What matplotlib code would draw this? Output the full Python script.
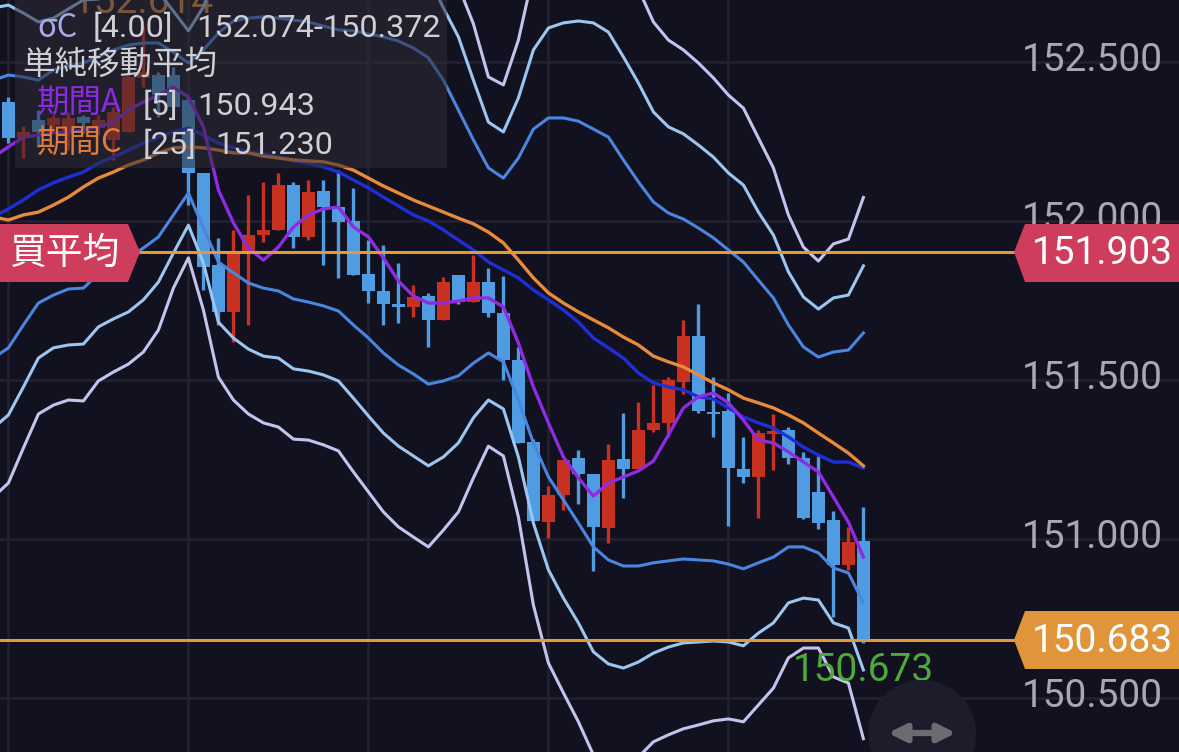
import numpy as np
import matplotlib
matplotlib.use("Agg")
import matplotlib.pyplot as plt
from matplotlib.patches import Polygon, Circle, Rectangle
from matplotlib.transforms import ScaledTranslation

# candles, from the first visible bar to the last one
opens = [152.374, 152.261, 152.318, 152.302, 152.280, 152.327, 152.292, 152.255, 152.280, 152.450,
         152.459, 152.459, 152.381, 152.151, 151.862, 151.714, 151.899, 151.956, 151.972, 152.113,
         151.950, 152.094, 152.044, 152.000, 151.833, 151.780, 151.739, 151.730, 151.764, 151.689,
         151.830, 151.745, 151.808, 151.711, 151.563, 151.305, 151.053, 151.138, 151.255, 151.204,
         151.035, 151.252, 151.220, 151.343, 151.365, 151.494, 151.638, 151.399, 151.403, 151.220,
         151.195, 151.330, 151.343, 151.255, 151.148, 151.060, 150.918, 150.994]
highs = [152.390, 152.299, 152.349, 152.333, 152.343, 152.333, 152.333, 152.359, 152.475, 152.614,
         152.469, 152.484, 152.390, 152.151, 151.947, 151.972, 152.082, 152.123, 152.151, 152.123,
         152.129, 152.129, 152.160, 152.104, 151.940, 151.925, 151.868, 151.799, 151.774, 151.824,
         151.830, 151.893, 151.852, 151.827, 151.604, 151.314, 151.167, 151.248, 151.280, 151.204,
         151.299, 151.396, 151.431, 151.484, 151.509, 151.689, 151.739, 151.509, 151.459, 151.321,
         151.343, 151.393, 151.352, 151.274, 151.261, 151.088, 151.038, 151.101]
lows = [152.245, 152.198, 152.233, 152.280, 152.223, 152.277, 152.270, 152.192, 152.280, 152.421,
        152.327, 152.359, 152.050, 151.783, 151.673, 151.620, 151.673, 151.934, 151.972, 151.915,
        151.940, 151.862, 151.821, 151.830, 151.742, 151.673, 151.679, 151.698, 151.604, 151.689,
        151.739, 151.745, 151.698, 151.500, 151.302, 151.057, 151.003, 151.091, 151.110, 150.899,
        150.987, 151.129, 151.220, 151.336, 151.321, 151.456, 151.396, 151.321, 151.041, 151.176,
        151.066, 151.217, 151.236, 151.063, 151.031, 150.755, 150.903, 150.673]
closes = [152.261, 152.280, 152.280, 152.324, 152.324, 152.308, 152.318, 152.343, 152.453, 152.469,
          152.396, 152.359, 152.151, 151.855, 151.714, 151.899, 151.956, 151.972, 152.113, 151.950,
          152.091, 152.044, 151.997, 151.830, 151.780, 151.739, 151.730, 151.761, 151.689, 151.808,
          151.745, 151.808, 151.711, 151.563, 151.302, 151.057, 151.138, 151.248, 151.204, 151.038,
          151.248, 151.220, 151.343, 151.365, 151.500, 151.638, 151.403, 151.393, 151.223, 151.195,
          151.333, 151.340, 151.255, 151.066, 151.050, 150.918, 150.991, 150.683]

# indicators start one bar left of the first visible candle
ma_a = [152.201, 152.233, 152.264, 152.270, 152.277, 152.280, 152.286, 152.296, 152.311, 152.349,
        152.374, 152.396, 152.421, 152.390, 152.296, 152.098, 151.994, 151.915, 151.877, 151.918,
        151.981, 152.019, 152.038, 152.044, 151.981, 151.950, 151.884, 151.811, 151.764, 151.742,
        151.742, 151.748, 151.758, 151.758, 151.730, 151.616, 151.478, 151.365, 151.258, 151.192,
        151.135, 151.176, 151.195, 151.214, 151.245, 151.327, 151.412, 151.447, 151.459, 151.428,
        151.374, 151.311, 151.302, 151.274, 151.242, 151.211, 151.132, 151.053, 150.943]
ma_c = [152.013, 152.003, 152.019, 152.028, 152.050, 152.075, 152.107, 152.135, 152.154, 152.176,
        152.192, 152.214, 152.230, 152.233, 152.230, 152.223, 152.214, 152.214, 152.204, 152.198,
        152.192, 152.189, 152.186, 152.176, 152.160, 152.135, 152.110, 152.088, 152.066, 152.047,
        152.028, 152.009, 151.991, 151.965, 151.931, 151.877, 151.821, 151.774, 151.742, 151.714,
        151.689, 151.664, 151.635, 151.610, 151.575, 151.557, 151.541, 151.516, 151.491, 151.469,
        151.443, 151.428, 151.412, 151.390, 151.365, 151.333, 151.302, 151.270, 151.230]
bb_mid = [152.013, 152.038, 152.066, 152.098, 152.120, 152.138, 152.154, 152.182, 152.201, 152.223,
          152.245, 152.264, 152.280, 152.292, 152.270, 152.245, 152.230, 152.217, 152.211, 152.201,
          152.189, 152.182, 152.170, 152.154, 152.129, 152.104, 152.075, 152.047, 152.019, 152.000,
          151.972, 151.940, 151.909, 151.871, 151.846, 151.821, 151.783, 151.752, 151.720, 151.682,
          151.632, 151.601, 151.569, 151.522, 151.491, 151.478, 151.469, 151.447, 151.440, 151.412,
          151.384, 151.365, 151.349, 151.321, 151.289, 151.264, 151.242, 151.242, 151.223]
upper_a = [152.443, 152.459, 152.453, 152.443, 152.475, 152.487, 152.497, 152.516, 152.538, 152.553,
           152.560, 152.560, 152.531, 152.497, 152.538, 152.591, 152.629, 152.638, 152.642, 152.638,
           152.632, 152.626, 152.613, 152.601, 152.598, 152.588, 152.579, 152.566, 152.544, 152.513,
           152.443, 152.349, 152.255, 152.167, 152.135, 152.198, 152.289, 152.324, 152.324, 152.314,
           152.289, 152.264, 152.192, 152.123, 152.060, 152.025, 152.006, 151.978, 151.947, 151.909,
           151.871, 151.814, 151.758, 151.673, 151.604, 151.572, 151.588, 151.594, 151.648]
lower_a = [151.569, 151.601, 151.673, 151.742, 151.767, 151.786, 151.789, 151.833, 151.862, 151.884,
           151.915, 151.950, 152.019, 152.088, 151.978, 151.871, 151.837, 151.805, 151.789, 151.780,
           151.755, 151.745, 151.733, 151.717, 151.673, 151.632, 151.585, 151.547, 151.519, 151.487,
           151.497, 151.513, 151.553, 151.585, 151.557, 151.437, 151.302, 151.195, 151.123, 151.050,
           150.975, 150.934, 150.915, 150.915, 150.925, 150.931, 150.937, 150.934, 150.931, 150.921,
           150.906, 150.925, 150.943, 150.975, 150.975, 150.956, 150.909, 150.893, 150.799]
upper_b = [152.670, 152.679, 152.654, 152.626, 152.638, 152.667, 152.695, 152.698, 152.711, 152.733,
           152.739, 152.720, 152.660, 152.598, 152.673, 152.808, 152.827, 152.837, 152.846, 152.833,
           152.843, 152.837, 152.824, 152.811, 152.814, 152.821, 152.818, 152.802, 152.777, 152.770,
           152.670, 152.579, 152.443, 152.311, 152.280, 152.387, 152.538, 152.607, 152.623, 152.629,
           152.623, 152.594, 152.516, 152.434, 152.343, 152.296, 152.274, 152.239, 152.201, 152.151,
           152.113, 152.028, 151.956, 151.840, 151.761, 151.723, 151.758, 151.767, 151.859]
lower_b = [151.349, 151.390, 151.478, 151.569, 151.601, 151.610, 151.613, 151.667, 151.692, 151.714,
           151.752, 151.808, 151.899, 151.987, 151.868, 151.682, 151.632, 151.597, 151.575, 151.569,
           151.535, 151.528, 151.516, 151.497, 151.443, 151.387, 151.333, 151.292, 151.261, 151.230,
           151.258, 151.302, 151.381, 151.437, 151.409, 151.258, 151.050, 150.903, 150.814, 150.736,
           150.645, 150.607, 150.594, 150.613, 150.641, 150.660, 150.673, 150.676, 150.679, 150.676,
           150.664, 150.704, 150.736, 150.799, 150.814, 150.808, 150.736, 150.720, 150.588]
upper_c = [152.918, 152.899, 152.846, 152.802, 152.818, 152.840, 152.874, 152.868, 152.877, 152.896,
           152.903, 152.871, 152.770, 152.701, 152.821, 152.981, 153.022, 153.041, 153.057, 153.050,
           153.063, 153.053, 153.044, 153.031, 153.047, 153.060, 153.066, 153.057, 153.031, 153.025,
           152.915, 152.739, 152.620, 152.453, 152.428, 152.569, 152.780, 152.893, 152.925, 152.940,
           152.943, 152.921, 152.874, 152.730, 152.626, 152.569, 152.538, 152.497, 152.450, 152.396,
           152.355, 152.261, 152.167, 152.019, 151.918, 151.874, 151.928, 151.943, 152.074]
lower_c = [151.132, 151.176, 151.286, 151.393, 151.421, 151.437, 151.434, 151.497, 151.525, 151.550,
           151.588, 151.657, 151.789, 151.884, 151.720, 151.509, 151.437, 151.393, 151.365, 151.352,
           151.314, 151.311, 151.296, 151.277, 151.211, 151.148, 151.085, 151.038, 151.006, 150.975,
           151.028, 151.085, 151.192, 151.292, 151.261, 151.069, 150.792, 150.610, 150.516, 150.425,
           150.321, 150.280, 150.264, 150.314, 150.362, 150.384, 150.403, 150.415, 150.428, 150.434,
           150.425, 150.478, 150.531, 150.626, 150.657, 150.657, 150.566, 150.547, 150.372]

y_ticks = [150.5, 151.0, 151.5, 152.0, 152.5]
avg_buy = 151.903
last_price = 150.683
low_price = 150.673
high_price = 152.614

BG = "#12111f"
GRID = "#222132"
UP = "#c8301f"
DOWN = "#4f9ce2"
LINE = "#e09a3c"
CJK = ["Noto Sans CJK JP", "Roboto", "DejaVu Sans"]
plt.rcParams["font.family"] = ["Roboto", "Noto Sans CJK JP", "DejaVu Sans"]

fig = plt.figure(figsize=(11.79, 7.52), dpi=100, facecolor=BG)
ax = fig.add_axes([0, 0, 1, 1], facecolor=BG)
ax.set_xlim(-8.4 / 15, 1170.6 / 15)
ax.set_ylim(150.330, 152.695)
for s in ax.spines.values():
    s.set_visible(False)

ax.set_xticks([0, 12, 24, 36, 48])
ax.set_yticks(y_ticks)
ax.set_yticklabels([f"{v:.3f}" for v in y_ticks])
ax.grid(True, color=GRID, linewidth=1.9)
ax.set_axisbelow(True)
ax.tick_params(axis="x", length=0, labelbottom=False)
ax.tick_params(axis="y", length=0, left=False, labelleft=False, labelright=True,
               pad=-11.5, labelsize=28, labelcolor="#a8a8b2")
# price labels sit a little above their grid lines
lift = ScaledTranslation(0, 0.055, fig.dpi_scale_trans)
for lab in ax.get_yticklabels():
    lab.set_ha("right")
    lab.set_transform(lab.get_transform() + lift)

# candles
xs = np.arange(len(opens))
o = np.array(opens)
c = np.array(closes)
colors = [UP if cl > op else DOWN for op, cl in zip(o, c)]
ax.vlines(xs, lows, highs, colors=colors, linewidth=2.4, zorder=3)
ax.bar(xs, np.abs(c - o), bottom=np.minimum(o, c), width=0.87, color=colors, zorder=3)

# indicators
line_x = np.arange(-1, len(opens))
for vals, col, lw in [(lower_c, "#c5c3ee", 2.2), (lower_b, "#9cc5f0", 2.2), (lower_a, "#4a86e0", 2.2),
                      (upper_c, "#c5c3ee", 2.2), (upper_b, "#9cc5f0", 2.2), (upper_a, "#4a86e0", 2.2),
                      (bb_mid, "#1f2fd6", 2.4), (ma_c, "#e88a3c", 2.4), (ma_a, "#8f2be0", 2.4)]:
    ax.plot(line_x, vals, color=col, linewidth=lw, zorder=4)

ax.text(9.03, high_price + 0.072, f"{high_price:.3f}", color="#d98a42", fontsize=28, ha="center", va="center", zorder=2)

ax.axhline(avg_buy, xmin=140 / 1179, color=LINE, linewidth=2.2, zorder=5)
ax.axhline(last_price, color=LINE, linewidth=2.2, zorder=5)
ax.text(57.0, low_price - 0.086, f"{low_price:.3f}", color="#4ea83a", fontsize=28, ha="center", va="center", zorder=6)

# overlay in pixel coordinates for the info panel, tags and button
ov = fig.add_axes([0, 0, 1, 1], facecolor="none")
ov.set_xlim(0, 1179)
ov.set_ylim(752, 0)
ov.axis("off")

ov.add_patch(Rectangle((15, -2), 432, 170, facecolor="#2c2c36", alpha=0.55, edgecolor="none"))

leg = "#cfcfd4"
ov.text(37, 37, "σC", color="#a9a9e8", fontsize=23.3, family=CJK, va="baseline")
ov.text(93, 37, "[4.00]", color=leg, fontsize=23.3, va="baseline")
ov.text(196, 37, "152.074-150.372", color=leg, fontsize=23.3, va="baseline")
ov.text(22, 65, "単純移動平均", color=leg, fontsize=23.4, family=CJK, va="center")
ov.text(37, 103, "期間A", color="#8a2be2", fontsize=23.4, family=CJK, va="center")
ov.text(143, 115, "[5]", color=leg, fontsize=23.3, va="baseline")
ov.text(197, 115, "150.943", color=leg, fontsize=23.3, va="baseline")
ov.text(37, 143, "期間C", color="#e07b39", fontsize=23.4, family=CJK, va="center")
ov.text(143, 154, "[25]", color=leg, fontsize=23.3, va="baseline")
ov.text(215, 154, "151.230", color=leg, fontsize=23.3, va="baseline")

ov.add_patch(Polygon([(-2, 224), (128, 224), (140, 252), (128, 282), (-2, 282)],
                     facecolor="#cf3d5c", edgecolor="none"))
ov.text(64, 253, "買平均", color="white", fontsize=26.5, family=CJK, ha="center", va="center")

ov.add_patch(Polygon([(1014, 252), (1025, 224), (1181, 224), (1181, 282), (1025, 282)],
                     facecolor="#cf3d5c", edgecolor="none"))
ov.text(1102, 253, f"{avg_buy:.3f}", color="white", fontsize=28, ha="center", va="center")
ov.add_patch(Polygon([(1014, 640), (1025, 611), (1181, 611), (1181, 669), (1025, 669)],
                     facecolor="#e0953a", edgecolor="none"))
ov.text(1102, 641, f"{last_price:.3f}", color="white", fontsize=28, ha="center", va="center")

ov.add_patch(Circle((922, 734), 54, facecolor="#1c1c2a", edgecolor="none", zorder=1))
ov.annotate("", xy=(956, 733), xytext=(888, 733),
            arrowprops=dict(arrowstyle="<|-|>", color="#6b6b72", lw=4.5, mutation_scale=26,
                            shrinkA=0, shrinkB=0))

fig.savefig("out.png", dpi=100, facecolor=BG)
